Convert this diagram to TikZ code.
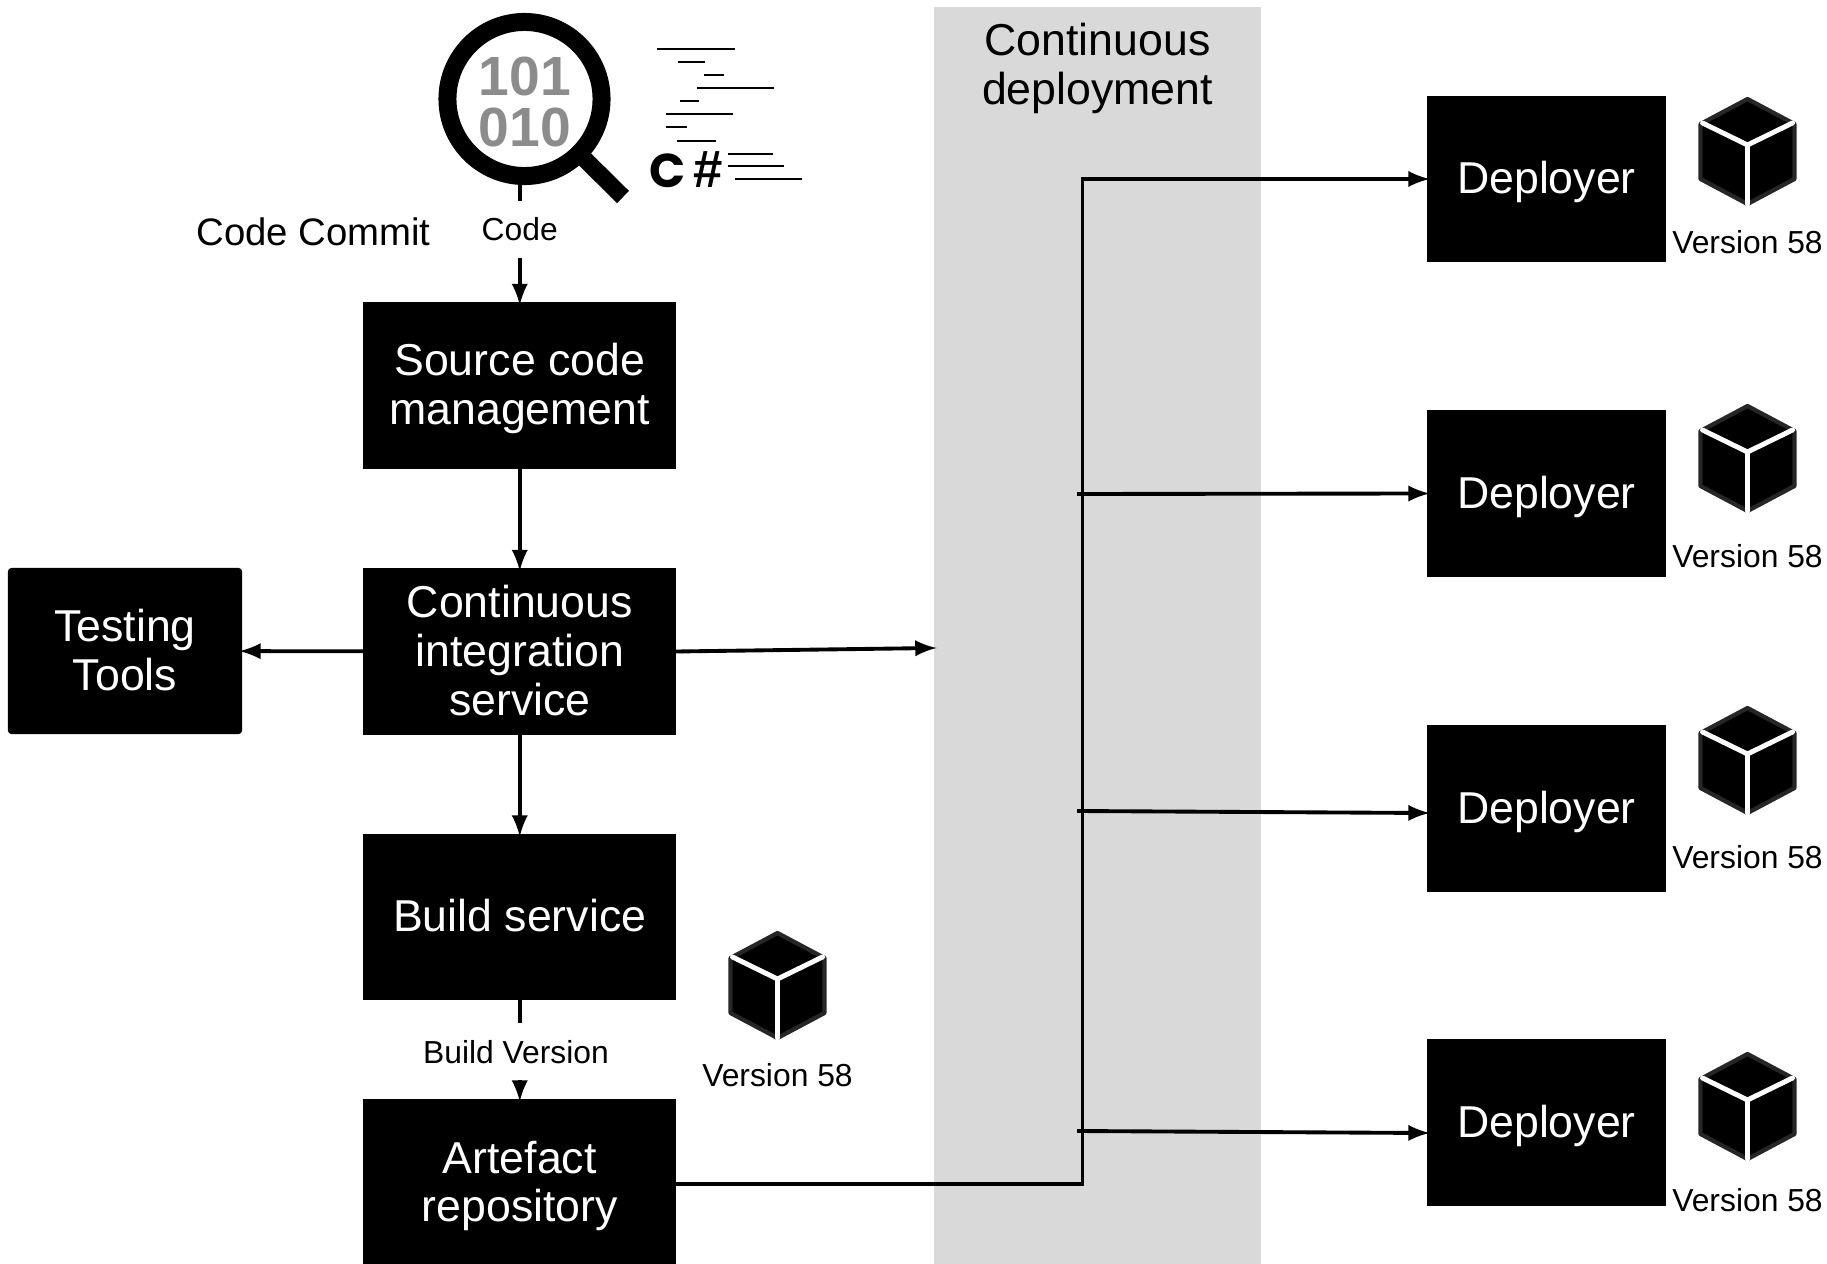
\documentclass[tikz,border=0pt]{standalone}
\usepackage{fontspec}
\setmainfont{Liberation Sans}
\newfontfamily\policeicone{Poppins}
\begin{document}
\begin{tikzpicture}[x=0.01cm,y=-0.01cm]
	\tikzstyle{fleche}=[->,>=latex,line width=1.1pt,shorten >=-0.8pt]
	\tikzstyle{trait}=[line width=1.1pt]
	\tikzstyle{boite}=[fill=black,text=white,inner sep=0pt,outer sep=0pt,align=center,font=\fontsize{12.7}{13.85}\selectfont]
	\tikzstyle{large}=[boite,minimum width=3.125cm,minimum height=1.66cm]
	\tikzstyle{deployeur}=[boite,minimum width=2.39cm,minimum height=1.66cm,text height=0.385cm,text depth=0.095cm]
	\tikzstyle{etiquette}=[fill=white,inner sep=0pt,outer sep=0pt,minimum height=0.57cm,font=\fontsize{9.05}{10}\selectfont]
	\tikzstyle{version}=[inner sep=0pt,font=\fontsize{9.05}{10}\selectfont]
	\tikzstyle{tiret}=[line width=0.6pt]
	
	\def\ColonneB{519.75}
	\def\ColonneD{1546.5}
	\def\ColonneC{1747.5}
	
	% hexagone noir et Y blanc
	\def\Cube#1#2{
		\begin{scope}[shift={(#1,#2)}]
			\fill[black,draw=black!85,line width=1.2pt,line join=round] (0,-52)--(47,-27)--(47,28)--(0,53)--(-47,28)--(-47,-27)--cycle;
			\draw[white,line width=1.4pt,line cap=round] (-45,-28)--(0,-6)--(45,-28) (0,-6)--(0,53);
		\end{scope}
	}
	% releve le haut de la premiere ligne
	\def\Descend#1{\rule{0pt}{#1}}
	
	\useasboundingbox (0,0) rectangle (1827,1264);
	
	\node[fill=black!15,minimum width=3.27cm,minimum height=12.57cm,inner sep=0pt,outer sep=0pt] (Bande) at (1097.5,635.5) {};
	\node[align=center,inner sep=0pt,font=\fontsize{12.7}{13.85}\selectfont] (TitreBande) at (1097.5,68.5) {Continuous\\deployment};
	
	% colonne de gauche
	\node[large] (Source) at (\ColonneB,385.5) {\Descend{10.8pt}Source code\\management};
	\node[large] (Integration) at (\ColonneB,651.5) {Continuous\\integration\\service\rule[-0.7pt]{0pt}{0pt}};
	\node[large,text depth=0.025cm] (Build) at (\ColonneB,917) {Build service};
	\node[large] (Artefact) at (\ColonneB,1182) {\Descend{11.4pt}Artefact\\repository};
	\node[boite,minimum width=2.34cm,minimum height=1.66cm,rounded corners=1pt] (Test) at (125,651) {Testing\\Tools\rule[-0.8pt]{0pt}{0pt}};
	
	% loupe
	\node[circle,draw=black,fill=white,line width=18*0.01cm,minimum size=1.54cm,inner sep=0pt,outer sep=0pt] (Loupe) at (524.5,99) {};
	\coordinate (BoutLoupe) at (623,197);
	\draw[line width=17*0.01cm] (Loupe.-45)--(BoutLoupe);
	\node[text=black!45,align=center,inner sep=0pt,font=\fontsize{15.7}{14.5}\selectfont\bfseries] (Bits) at (525,102) {101\\010};
	
	% lignes de code
	\foreach \xa/\xb/\yy in {657/735/48.7,678/705/62,704/724/75,697/774/88,680/699/101,666/733/114,666/687/127,677/716/141,728/773/154,728/784/166,735/802/179}
		\draw[tiret] (\xa,\yy)--(\xb,\yy);
	\node[inner sep=0pt,font=\fontsize{13.5}{14}\selectfont\bfseries] (Langage) at (686,170) {{\policeicone C}\,{\fontsize{15}{15}\selectfont\#}};
	
	\node[inner sep=0pt,font=\fontsize{10.9}{12}\selectfont] (Commit) at (313.5,232) {Code Commit};
	\node[etiquette] (Code) at (\ColonneB,229.5) {Code};
	\node[etiquette] (Version) at (516,1052) {Build Version};
	
	% deployeurs
	\node[deployeur] (Da) at (\ColonneD,179) {Deployer};
	\node[deployeur] (Db) at (\ColonneD,493.5) {Deployer};
	\node[deployeur] (Dc) at (\ColonneD,808.5) {Deployer};
	\node[deployeur] (Dd) at (\ColonneD,1122.5) {Deployer};
	
	% paquets
	\Cube{\ColonneC}{151}
	\Cube{\ColonneC}{458}
	\Cube{\ColonneC}{760}
	\Cube{\ColonneC}{1106}
	\Cube{777.5}{985}
	\node[version] (Va) at (\ColonneC,242.5) {Version 58};
	\node[version] (Vb) at (\ColonneC,556) {Version 58};
	\node[version] (Vc) at (\ColonneC,857.5) {Version 58};
	\node[version] (Vd) at (\ColonneC,1200) {Version 58};
	\node[version] (Ve) at (777.5,1075) {Version 58};
	
	% points libres
	\coordinate (EntreeBande) at (Bande.west|-0,648);
	\coordinate (SortieArtefact) at (Artefact.east|-0,1184);
	\coordinate (BusHaut) at (1082.5,179);
	\coordinate (BusB) at (1077,494);
	\coordinate (BusC) at (1077,811);
	\coordinate (BusD) at (1077,1131);
	\coordinate (ArriveeC) at (Dc.west|-0,813);
	\coordinate (ArriveeD) at (Dd.west|-0,1133);
	
	\draw[trait] (Loupe.south-|Code)--(Code.north);
	\draw[fleche] (Code.south)--(Source.north);
	\draw[fleche] (Source)--(Integration);
	\draw[fleche] (Integration)--(Build);
	\draw[fleche] (Integration)--(Test);
	\draw[fleche] (Integration.east)--(EntreeBande);
	\draw[trait] (Build.south)--(Build.south|-0,1023);
	\draw[fleche] (Build.south|-0,1080)--(Artefact.north);
	\draw[fleche] (SortieArtefact)-|(BusHaut)--(Da.west);
	\draw[fleche] (BusB)--(Db.west);
	\draw[fleche] (BusC)--(ArriveeC);
	\draw[fleche] (BusD)--(ArriveeD);
\end{tikzpicture}
\end{document}
